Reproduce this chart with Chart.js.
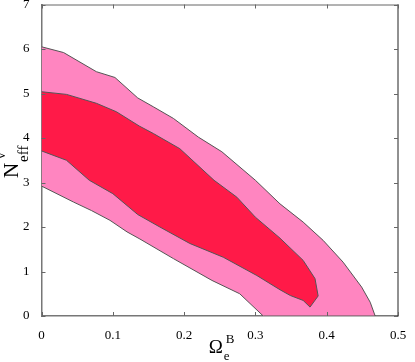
<!DOCTYPE html>
<html>
<head>
<meta charset="utf-8">
<script src="https://cdn.jsdelivr.net/npm/chart.js@4/dist/chart.umd.min.js"></script>
<style>
html,body{margin:0;padding:0;background:#fff;}
#c{display:block;}
</style>
</head>
<body>
<canvas id="c" width="415" height="362"></canvas>
<script>
// 95% (outer) and 68% (inner) contours of N_eff vs Omega_e^B
const outerUpperX = [0, 0.031, 0.077, 0.103, 0.135, 0.157, 0.185, 0.22, 0.253, 0.30, 0.3345, 0.367, 0.395, 0.423, 0.449, 0.461, 0.468];
const outerUpperY = [6.05, 5.92, 5.49, 5.36, 4.90, 4.70, 4.44, 4.02, 3.69, 3.05, 2.52, 2.11, 1.70, 1.21, 0.65, 0.31, 0.0];
const outerLowerX = [0, 0.045, 0.070, 0.096, 0.12, 0.138, 0.185, 0.239, 0.278, 0.311, 0.468];
const outerLowerY = [2.92, 2.56, 2.37, 2.15, 1.89, 1.73, 1.29, 0.80, 0.50, 0.0, 0.0];
const innerUpperX = [0, 0.035, 0.077, 0.105, 0.137, 0.157, 0.194, 0.242, 0.274, 0.30, 0.3345, 0.367, 0.3836, 0.388];
const innerUpperY = [5.04, 4.98, 4.78, 4.59, 4.27, 4.10, 3.76, 3.05, 2.67, 2.22, 1.75, 1.25, 0.84, 0.45];
const innerLowerX = [0, 0.035, 0.067, 0.10, 0.135, 0.166, 0.208, 0.255, 0.302, 0.3345, 0.349, 0.367, 0.3766, 0.388];
const innerLowerY = [3.71, 3.50, 3.05, 2.75, 2.28, 2.00, 1.63, 1.32, 0.91, 0.59, 0.46, 0.35, 0.20, 0.45];
const xTicks = [0, 0.1, 0.2, 0.3, 0.4, 0.5];
const yTicks = [0, 1, 2, 3, 4, 5, 6, 7];

const pts = (xs, ys) => xs.map((x, i) => ({x: x, y: ys[i]}));
const PINK = '#ff85c0', RED = '#ff1a48', EDGE = '#555555';
const serif = '"Liberation Serif", "Times New Roman", serif';

const framePlugin = {
  id: 'frame',
  afterDraw(chart) {
    const {ctx, chartArea: a, scales: {x, y}} = chart;
    ctx.save();
    ctx.strokeStyle = '#666';
    ctx.lineWidth = 1;
    ctx.beginPath();
    ctx.moveTo(a.left, a.top + 0.5); ctx.lineTo(a.right, a.top + 0.5);
    ctx.stroke();
    ctx.strokeStyle = '#222';
    ctx.beginPath();
    ctx.moveTo(a.right, a.top); ctx.lineTo(a.right, a.bottom);
    ctx.stroke();
    ctx.strokeStyle = '#666';
    ctx.lineWidth = 1;
    const L = 4;
    ctx.beginPath();
    xTicks.forEach(v => {
      const px = Math.round(x.getPixelForValue(v)) + 0.5;
      ctx.moveTo(px, a.bottom); ctx.lineTo(px, a.bottom - L);
      ctx.moveTo(px, a.top); ctx.lineTo(px, a.top + L);
    });
    yTicks.forEach(v => {
      const py = Math.round(y.getPixelForValue(v)) + 0.5;
      ctx.moveTo(a.left, py); ctx.lineTo(a.left + L, py);
      ctx.moveTo(a.right, py); ctx.lineTo(a.right - L, py);
    });
    ctx.stroke();
    // axis titles with sub/superscripts
    ctx.fillStyle = '#000';
    ctx.textBaseline = 'alphabetic';
    ctx.textAlign = 'left';
    const cx = (a.left + a.right) / 2;
    ctx.font = '19px ' + serif;
    ctx.fillText('Ω', cx - 11, 353);
    ctx.font = '13px ' + serif;
    ctx.fillText('B', cx + 6, 343);
    ctx.fillText('e', cx + 4, 360);
    // y title rotated
    ctx.save();
    ctx.translate(18, 178);
    ctx.rotate(-Math.PI / 2);
    ctx.font = '21px ' + serif;
    ctx.fillText('N', 0, 0);
    ctx.font = '15px ' + serif;
    ctx.fillText('eff', 16, 10);
    ctx.font = '14px ' + serif;
    ctx.fillText('ν', 19, -13);
    ctx.restore();
    ctx.restore();
  }
};

new Chart(document.getElementById('c'), {
  type: 'line',
  data: {
    datasets: [
      {data: pts(innerUpperX, innerUpperY), fill: '+1', backgroundColor: RED, borderColor: EDGE, borderWidth: 1},
      {data: pts(innerLowerX, innerLowerY), fill: false, borderColor: EDGE, borderWidth: 1},
      {data: pts(outerUpperX, outerUpperY), fill: '+1', backgroundColor: PINK, borderColor: EDGE, borderWidth: 1},
      {data: pts(outerLowerX, outerLowerY), fill: false, borderColor: EDGE, borderWidth: 1}
    ]
  },
  options: {
    responsive: false,
    animation: false,
    devicePixelRatio: 1,
    elements: {point: {radius: 0, hoverRadius: 0}, line: {tension: 0}},
    layout: {padding: {top: 4.5, right: 17, left: 0, bottom: 0}},
    plugins: {legend: {display: false}, tooltip: {enabled: false}, filler: {drawTime: 'beforeDatasetsDraw'}},
    events: [],
    scales: {
      x: {
        type: 'linear', min: 0, max: 0.5,
        afterFit(s) { s.height = 46; s.paddingLeft = 0; s.paddingRight = 0; },
        afterBuildTicks(s) { s.ticks = xTicks.map(v => ({value: v})); },
        grid: {display: false},
        border: {display: true, color: '#777', width: 1.5},
        ticks: {padding: 4, color: '#000', maxRotation: 0, font: {family: serif, size: 13}, callback: v => String(v)}
      },
      y: {
        type: 'linear', min: 0, max: 7,
        afterFit(s) { s.width = 41.5; s.paddingTop = 0; s.paddingBottom = 0; },
        afterBuildTicks(s) { s.ticks = yTicks.map(v => ({value: v})); },
        grid: {display: false},
        border: {display: true, color: '#777', width: 1.5},
        ticks: {padding: 4, color: '#000', font: {family: serif, size: 13}, callback: v => String(v)}
      }
    }
  },
  plugins: [framePlugin]
});
</script>
</body>
</html>
